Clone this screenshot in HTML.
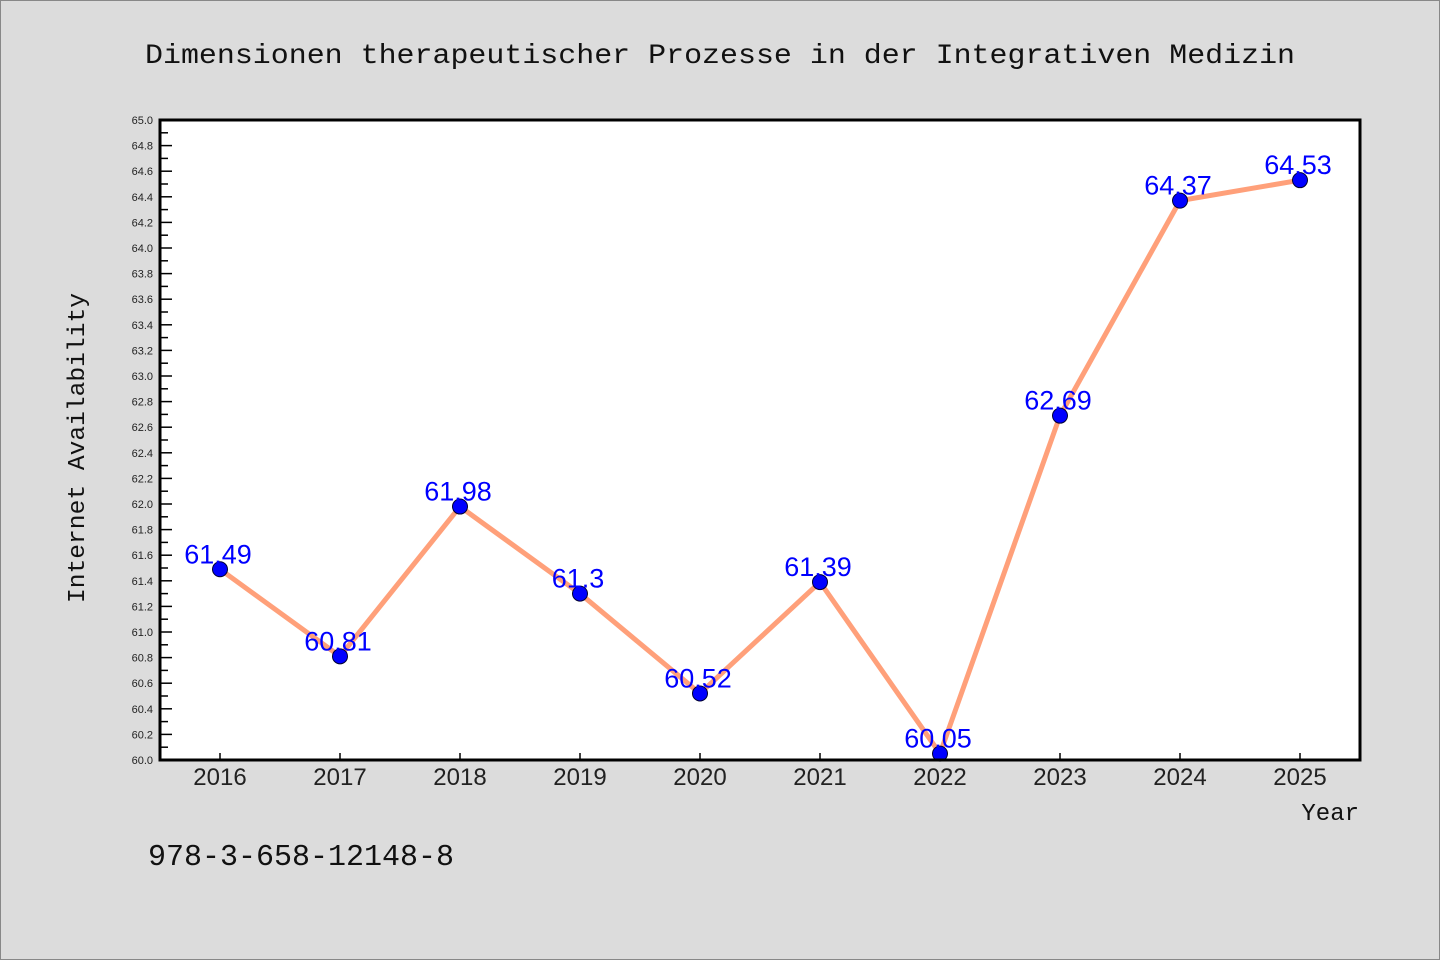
<!DOCTYPE html>
<html><head><meta charset="utf-8"><style>
body{margin:0;background:#dcdcdc}
svg{display:block}
text{font-family:"Liberation Sans","WenQuanYi Zen Hei",sans-serif}
.mono{font-family:"Liberation Mono","WenQuanYi Zen Hei",monospace}
</style></head><body>
<svg width="1440" height="960" xmlns="http://www.w3.org/2000/svg">
<rect x="0.5" y="0.5" width="1439" height="959" fill="#dcdcdc" stroke="#888"/>
<text class="mono" x="720" y="63" text-anchor="middle" font-size="28" textLength="1150" lengthAdjust="spacingAndGlyphs" fill="#111">Dimensionen therapeutischer Prozesse in der Integrativen Medizin</text>
<rect x="160" y="120" width="1200" height="640" fill="#fff"/>
<g id="axes"></g>
<polyline id="line" fill="none" stroke="#ffa07a" stroke-width="5" stroke-linejoin="round"/>
<g id="marks"></g>
<rect x="160" y="120" width="1200" height="640" fill="none" stroke="#000" stroke-width="3"/>
<text class="mono" x="84" y="448" transform="rotate(-90 84 448)" text-anchor="middle" font-size="24" textLength="310" lengthAdjust="spacingAndGlyphs" fill="#111">Internet Availability</text>
<text class="mono" x="1359" y="820" text-anchor="end" font-size="24" fill="#111">Year</text>
<text class="mono" x="148" y="865" font-size="31" fill="#111" textLength="306" lengthAdjust="spacingAndGlyphs">978-3-658-12148-8</text>
</svg>
<script>
const years=[2016,2017,2018,2019,2020,2021,2022,2023,2024,2025];
const values=[61.49,60.81,61.98,61.3,60.52,61.39,60.05,62.69,64.37,64.53];
const labels=["61.49","60.81","61.98","61.3","60.52","61.39","60.05","62.69","64.37","64.53"];
const yMin=60,yMax=65;
const NS="http://www.w3.org/2000/svg";
const xS=i=>220+i*(1080/(years.length-1));
const yS=v=>760-(v-yMin)/(yMax-yMin)*640;
const axes=document.getElementById('axes'),marks=document.getElementById('marks');
function mk(t,a,p){const e=document.createElementNS(NS,t);for(const k in a)e.setAttribute(k,a[k]);p.appendChild(e);return e;}
for(let k=0;k<=50;k++){const v=yMin+k*0.1,y=yS(v),maj=k%2==0;
 const l=mk('line',{x1:160,x2:maj?172:168,y1:y,y2:y,stroke:'#000','stroke-width':1.5},axes);
 
 
 if(maj){const t=mk('text',{x:153,y:y+4,'text-anchor':'end','font-size':11,fill:'#222'},axes);t.textContent=v.toFixed(1);
 
 }}
years.forEach((yr,i)=>{const x=xS(i);
 const l=mk('line',{x1:x,x2:x,y1:760,y2:753,stroke:'#000','stroke-width':1.5},axes);
 
 
 const t=mk('text',{x:x,y:785,'text-anchor':'middle','font-size':24,fill:'#222'},axes);t.textContent=yr;
 
 });
document.getElementById('line').setAttribute('points',values.map((v,i)=>xS(i)+','+yS(v)).join(' '));
values.forEach((v,i)=>{
 const c=mk('circle',{cx:xS(i),cy:yS(v),r:7.5,fill:'#0000ff',stroke:'#000033','stroke-width':1},marks);
 
 
 const t=mk('text',{x:xS(i)-2,y:yS(v)-6,'text-anchor':'middle','font-size':27,fill:'#0000ff'},marks);t.textContent=labels[i];
 
 });
</script>
</body></html>
